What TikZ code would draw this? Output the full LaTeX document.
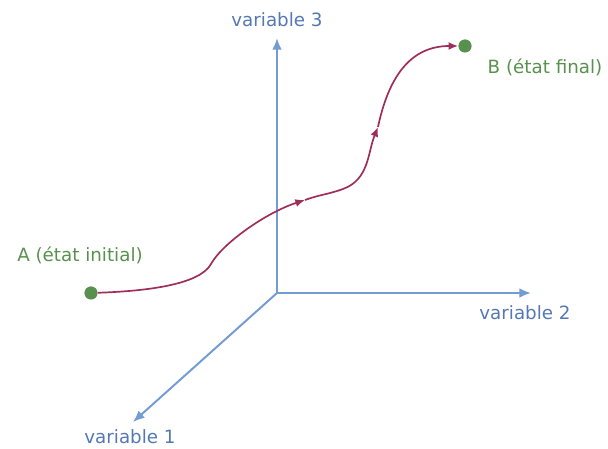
\documentclass[tikz,border=0pt]{standalone}
\usepackage{fontspec}
\setmainfont{DejaVu Sans}
\usepackage{xcolor}
\usepackage{tikz}
\usetikzlibrary{arrows.meta,calc}
\definecolor{axisblue}{RGB}{115,155,212}
\definecolor{labelblue}{RGB}{85,120,180}
\definecolor{stategreen}{RGB}{88,145,78}
\definecolor{pathred}{RGB}{158,45,90}
\tikzset{
  axis-arrow/.style={-{Latex[length=2.9mm,width=2.4mm]}, line width=1.4pt, draw=axisblue},
  axis-label/.style={font=\fontsize{13}{15}\selectfont, text=labelblue, inner sep=0pt},
  state-dot/.style={circle, fill=stategreen, inner sep=0pt, minimum size=3.3mm},
  state-label/.style={font=\fontsize{13}{15}\selectfont, text=stategreen, inner sep=0pt},
  path-arrow/.style={-{Latex[length=2.4mm,width=2mm]}, line width=1.2pt, draw=pathred}
}
\begin{document}
\begin{tikzpicture}[x=0.025cm, y=0.025cm]
\useasboundingbox (0,0) rectangle (608,449);

% Axes
\coordinate (O) at (277,156);
\coordinate (tip1) at (133,27);
\coordinate (tip2) at (531,156);
\coordinate (tip3) at (277,411);
\draw[axis-arrow] (O) -- (tip1);
\draw[axis-arrow] (O) -- (tip2);
\draw[axis-arrow] (O) -- (tip3);

% Axis labels
\node[axis-label] (var1) at (130,12) {variable 1};
\node[axis-label] (var2) at (525,136) {variable 2};
\node[axis-label] (var3) at (277,429) {variable 3};

% States
\node[state-dot] (A) at (91,156) {};
\node[state-dot] (B) at (465,403) {};
\node[state-label] (A-label) at (80,194) {A (état initial)};
\node[state-label] (B-label) at (545,382) {B (état final)};

% Trajectory
\coordinate (bend1) at (211,185);
\coordinate (mid1) at (305,249);
\coordinate (bend2) at (343,260);
\coordinate (mid2) at (378,322);
\draw[path-arrow] (A) .. controls (150,158) and (200,165) .. (bend1)
  .. controls (222,205) and (265,236) .. (mid1);
\draw[path-arrow] (mid1) to[out=20,in=200] (bend2) to[out=20,in=-112] (mid2);
\draw[path-arrow] (mid2) to[out=78,in=180,looseness=1.1] (B);
\end{tikzpicture}
\end{document}
